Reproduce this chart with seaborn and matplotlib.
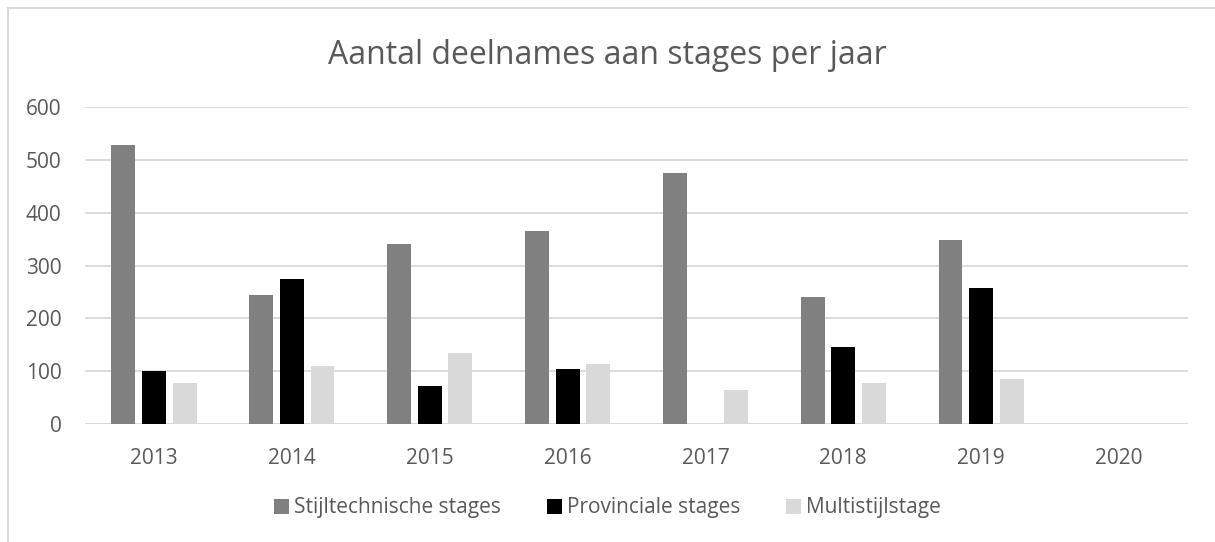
import matplotlib
matplotlib.use("Agg")
import matplotlib.pyplot as plt
from matplotlib.patches import Rectangle
import pandas as pd
import seaborn as sns

years = ["2013", "2014", "2015", "2016", "2017", "2018", "2019", "2020"]
stijltechnisch = [529, 245, 341, 365, 475, 240, 349, 0]
provinciaal = [101, 274, 72, 105, 0, 146, 257, 0]
multistijl = [78, 109, 134, 113, 65, 77, 86, 0]
series_names = ["Stijltechnische stages", "Provinciale stages", "Multistijlstage"]
colors = ["#808080", "#000000", "#d9d9d9"]

df = pd.DataFrame({
    "Jaar": years * 3,
    "Reeks": [series_names[0]] * 8 + [series_names[1]] * 8 + [series_names[2]] * 8,
    "Aantal": stijltechnisch + provinciaal + multistijl,
})

sns.set_style("white")
plt.rcParams["font.family"] = ["Open Sans", "DejaVu Sans"]
text_col = "#595959"

fig = plt.figure(figsize=(12.15, 5.42), dpi=100)
ax = fig.add_axes([85 / 1215, 1 - 424 / 542, (1188 - 85) / 1215, (424 - 107) / 542])

sns.barplot(data=df, x="Jaar", y="Aantal", hue="Reeks", palette=colors,
            width=0.667, gap=0.22, linewidth=0, ax=ax)

ax.set_ylim(0, 600)
ax.set_xlim(-0.5, len(years) - 0.5)
ax.set_yticks(range(0, 601, 100))
ax.yaxis.grid(True, color="#d9d9d9", linewidth=1.3)
ax.set_axisbelow(True)
for s in ax.spines.values():
    s.set_visible(False)
ax.axhline(0, color="#d9d9d9", linewidth=1.5, zorder=0.5)
ax.set_xlabel("")
ax.set_ylabel("")
ax.tick_params(axis="x", length=0, pad=17, labelsize=15, labelcolor=text_col)
ax.tick_params(axis="y", length=0, pad=17, labelsize=15, labelcolor=text_col)

fig.suptitle("Aantal deelnames aan stages per jaar", y=1 - 55 / 542, va="center",
             fontsize=23, color=text_col)

ax.legend(loc="center", bbox_to_anchor=(0.5, 1 - 508 / 542), bbox_transform=fig.transFigure,
          ncol=3, frameon=False, fontsize=15, labelcolor=text_col,
          handlelength=0.7, handleheight=0.7, handletextpad=0.25, columnspacing=2.2)

# chart border (only top and left visible in the crop)
fig.add_artist(Rectangle((7.5 / 1215, -0.1), 1.2, 1.1 - 8 / 542, transform=fig.transFigure,
                         fill=False, edgecolor="#d9d9d9", linewidth=1.5))

fig.savefig("out.png", dpi=100)
